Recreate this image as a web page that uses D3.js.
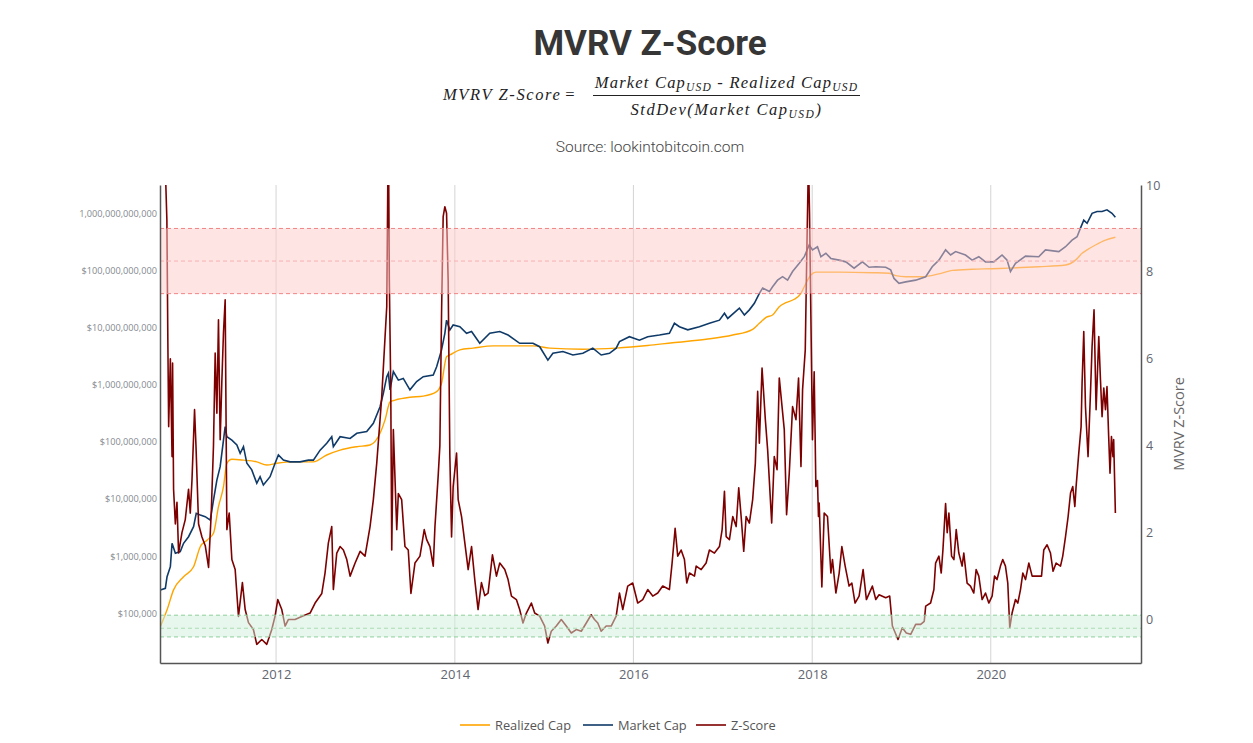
<!DOCTYPE html>
<html>
<head>
<meta charset="utf-8">
<script src="https://cdnjs.cloudflare.com/ajax/libs/d3/7.8.5/d3.min.js"></script>
<style>
  body { margin: 0; background: #fff; }
</style>
</head>
<body>
<div id="chart"></div>
<script>

// data: [decimal year, value]
// caps are kept as log10 of the USD value
const realizedCapLog10 = [
  [2010.704, 4.765], [2010.779, 5.06], [2010.852, 5.41], [2010.964, 5.64], [2011.076, 5.815],
  [2011.151, 6.165], [2011.226, 6.28], [2011.299, 6.4], [2011.355, 6.865], [2011.411, 7.215],
  [2011.449, 7.625], [2011.505, 7.695], [2011.635, 7.68], [2011.784, 7.65], [2011.896, 7.595],
  [2012.008, 7.625], [2012.193, 7.65], [2012.417, 7.65], [2012.566, 7.77], [2012.715, 7.855],
  [2012.902, 7.915], [2013.050, 7.945], [2013.162, 8.15], [2013.218, 8.385], [2013.274, 8.7],
  [2013.330, 8.73], [2013.497, 8.78], [2013.646, 8.8], [2013.796, 8.88], [2013.851, 9.025],
  [2013.907, 9.49], [2013.944, 9.52], [2014.056, 9.61], [2014.204, 9.64], [2014.428, 9.68],
  [2014.875, 9.68], [2015.061, 9.64], [2015.434, 9.62], [2015.807, 9.64], [2016.160, 9.685],
  [2016.439, 9.735], [2016.812, 9.795], [2017.110, 9.87], [2017.333, 9.97], [2017.408, 10.075],
  [2017.483, 10.18], [2017.556, 10.22], [2017.631, 10.365], [2017.706, 10.435], [2017.799, 10.495],
  [2017.874, 10.6], [2017.930, 10.775], [2017.985, 10.92], [2018.041, 10.97], [2018.302, 10.97],
  [2018.674, 10.96], [2018.860, 10.95], [2018.935, 10.91], [2019.047, 10.89], [2019.232, 10.89],
  [2019.419, 10.94], [2019.568, 11.0], [2019.791, 11.02], [2020.015, 11.03], [2020.201, 11.04],
  [2020.536, 11.065], [2020.835, 11.095], [2020.947, 11.18], [2021.020, 11.3], [2021.076, 11.36],
  [2021.170, 11.445], [2021.282, 11.53], [2021.393, 11.58]
]

const marketCapLog10 = [
  [2010.704, 5.408], [2010.760, 5.437], [2010.779, 5.64], [2010.816, 5.815], [2010.835, 6.225],
  [2010.872, 6.05], [2010.927, 6.08], [2010.964, 6.225], [2011.020, 6.34], [2011.076, 6.515],
  [2011.106, 6.75], [2011.151, 6.72], [2011.207, 6.69], [2011.263, 6.63], [2011.299, 6.98],
  [2011.337, 7.33], [2011.374, 7.565], [2011.411, 8.03], [2011.430, 8.265], [2011.449, 8.09],
  [2011.505, 8.03], [2011.561, 7.945], [2011.598, 7.8], [2011.635, 7.915], [2011.673, 7.625],
  [2011.728, 7.51], [2011.784, 7.275], [2011.821, 7.39], [2011.858, 7.245], [2011.933, 7.39],
  [2011.989, 7.625], [2012.026, 7.77], [2012.082, 7.68], [2012.156, 7.65], [2012.268, 7.65],
  [2012.361, 7.68], [2012.417, 7.68], [2012.492, 7.855], [2012.566, 7.975], [2012.622, 8.09],
  [2012.640, 7.915], [2012.715, 8.09], [2012.827, 8.06], [2012.902, 8.15], [2013.013, 8.18],
  [2013.087, 8.325], [2013.162, 8.615], [2013.199, 8.85], [2013.237, 9.14], [2013.255, 9.2],
  [2013.274, 8.91], [2013.311, 9.23], [2013.367, 9.08], [2013.422, 9.11], [2013.497, 8.91],
  [2013.572, 9.055], [2013.646, 9.14], [2013.758, 9.17], [2013.796, 9.315], [2013.851, 9.61],
  [2013.888, 9.9], [2013.907, 10.13], [2013.944, 9.96], [2013.981, 10.045], [2014.056, 10.015],
  [2014.131, 9.9], [2014.187, 9.93], [2014.279, 9.725], [2014.391, 9.9], [2014.503, 9.93],
  [2014.596, 9.87], [2014.726, 9.725], [2014.875, 9.725], [2014.950, 9.665], [2015.042, 9.43],
  [2015.098, 9.55], [2015.210, 9.58], [2015.322, 9.52], [2015.434, 9.55], [2015.545, 9.64],
  [2015.639, 9.52], [2015.732, 9.55], [2015.807, 9.64], [2015.844, 9.755], [2015.955, 9.84],
  [2016.067, 9.78], [2016.160, 9.84], [2016.291, 9.87], [2016.402, 9.9], [2016.458, 10.075],
  [2016.514, 10.015], [2016.607, 9.96], [2016.737, 10.015], [2016.849, 10.075], [2016.961, 10.13],
  [2017.017, 10.25], [2017.054, 10.16], [2017.184, 10.34], [2017.240, 10.22], [2017.296, 10.31],
  [2017.352, 10.425], [2017.408, 10.6], [2017.445, 10.69], [2017.520, 10.63], [2017.556, 10.715],
  [2017.612, 10.83], [2017.668, 10.89], [2017.724, 10.83], [2017.780, 10.98], [2017.855, 11.125],
  [2017.911, 11.24], [2017.966, 11.445], [2018.003, 11.36], [2018.059, 11.415], [2018.097, 11.24],
  [2018.153, 11.3], [2018.209, 11.21], [2018.302, 11.18], [2018.377, 11.15], [2018.469, 11.04],
  [2018.562, 11.15], [2018.637, 11.055], [2018.712, 11.065], [2018.823, 11.055], [2018.879, 11.01],
  [2018.916, 10.86], [2018.972, 10.775], [2019.047, 10.8], [2019.159, 10.83], [2019.271, 10.89],
  [2019.344, 11.065], [2019.419, 11.18], [2019.494, 11.36], [2019.550, 11.27], [2019.606, 11.33],
  [2019.717, 11.27], [2019.791, 11.18], [2019.866, 11.24], [2019.941, 11.15], [2020.034, 11.15],
  [2020.126, 11.27], [2020.182, 11.18], [2020.220, 10.98], [2020.276, 11.125], [2020.388, 11.25],
  [2020.536, 11.24], [2020.611, 11.36], [2020.760, 11.33], [2020.835, 11.415], [2020.908, 11.53],
  [2020.964, 11.59], [2021.002, 11.74], [2021.039, 11.88], [2021.076, 11.825], [2021.132, 12.0],
  [2021.188, 12.03], [2021.244, 12.03], [2021.299, 12.06], [2021.355, 12.0], [2021.393, 11.93]
]

const zScore = [
  [2010.740, 12.5], [2010.758, 10.5], [2010.777, 9.2], [2010.788, 6.4], [2010.797, 4.44],
  [2010.816, 6.0], [2010.835, 3.75], [2010.841, 5.9], [2010.852, 3.0], [2010.872, 2.2],
  [2010.890, 2.7], [2010.908, 1.53], [2010.946, 2.0], [2010.983, 2.3], [2011.020, 3.0],
  [2011.039, 2.45], [2011.058, 3.2], [2011.087, 4.83], [2011.103, 4.0], [2011.132, 2.2],
  [2011.170, 1.9], [2011.207, 1.7], [2011.244, 1.2], [2011.274, 2.45], [2011.299, 4.0],
  [2011.318, 6.13], [2011.337, 4.75], [2011.355, 6.9], [2011.374, 4.14], [2011.393, 5.5],
  [2011.411, 6.6], [2011.430, 7.36], [2011.449, 2.07], [2011.475, 2.45], [2011.505, 1.38],
  [2011.542, 1.15], [2011.579, 0.07], [2011.623, 0.85], [2011.654, 0.23], [2011.691, -0.07],
  [2011.746, -0.23], [2011.784, -0.57], [2011.840, -0.46], [2011.896, -0.57], [2011.952, -0.23],
  [2011.989, 0.08], [2012.019, 0.46], [2012.064, 0.23], [2012.101, -0.15], [2012.137, 0.0],
  [2012.212, 0.0], [2012.287, 0.07], [2012.380, 0.15], [2012.436, 0.38], [2012.511, 0.6],
  [2012.547, 1.07], [2012.584, 1.76], [2012.622, 2.14], [2012.640, 0.69], [2012.678, 1.53],
  [2012.715, 1.68], [2012.752, 1.6], [2012.790, 1.38], [2012.827, 1.0], [2012.883, 1.3],
  [2012.939, 1.57], [2012.994, 1.46], [2013.050, 2.14], [2013.087, 2.76], [2013.125, 3.6],
  [2013.162, 4.6], [2013.181, 5.13], [2013.218, 6.5], [2013.237, 7.2], [2013.255, 11.5],
  [2013.266, 7.8], [2013.282, 5.3], [2013.293, 1.6], [2013.311, 4.37], [2013.349, 2.07],
  [2013.367, 2.9], [2013.404, 2.76], [2013.441, 1.68], [2013.478, 1.6], [2013.508, 0.6],
  [2013.553, 1.3], [2013.609, 1.46], [2013.657, 2.07], [2013.684, 1.84], [2013.721, 1.68],
  [2013.758, 1.23], [2013.777, 2.14], [2013.813, 3.3], [2013.832, 4.0], [2013.851, 7.05],
  [2013.869, 9.27], [2013.888, 9.5], [2013.907, 9.35], [2013.925, 7.8], [2013.944, 3.75],
  [2013.963, 1.9], [2013.981, 3.06], [2014.019, 3.83], [2014.037, 2.76], [2014.075, 2.37],
  [2014.112, 1.76], [2014.149, 1.15], [2014.187, 1.68], [2014.223, 0.92], [2014.260, 0.23],
  [2014.298, 0.85], [2014.335, 0.55], [2014.372, 0.61], [2014.421, 1.49], [2014.466, 1.0],
  [2014.503, 1.3], [2014.559, 1.15], [2014.596, 0.92], [2014.634, 0.54], [2014.689, 0.46],
  [2014.726, 0.23], [2014.763, -0.08], [2014.801, 0.15], [2014.857, 0.38], [2014.894, 0.15],
  [2014.950, 0.08], [2015.006, -0.15], [2015.042, -0.54], [2015.080, -0.27], [2015.136, -0.15],
  [2015.192, 0.0], [2015.248, -0.15], [2015.304, -0.31], [2015.360, -0.23], [2015.416, -0.27],
  [2015.472, -0.08], [2015.527, 0.11], [2015.564, 0.0], [2015.601, -0.08], [2015.639, -0.27],
  [2015.695, -0.15], [2015.751, -0.15], [2015.807, 0.08], [2015.844, 0.61], [2015.881, 0.23],
  [2015.936, 0.77], [2015.992, 0.84], [2016.048, 0.38], [2016.104, 0.46], [2016.160, 0.69],
  [2016.216, 0.54], [2016.272, 0.61], [2016.327, 0.77], [2016.402, 0.69], [2016.432, 1.3],
  [2016.466, 2.1], [2016.495, 1.46], [2016.533, 1.6], [2016.570, 1.38], [2016.596, 0.84],
  [2016.626, 1.07], [2016.682, 1.0], [2016.701, 1.23], [2016.757, 1.15], [2016.812, 1.3],
  [2016.849, 1.6], [2016.905, 1.53], [2016.961, 1.68], [2016.991, 2.07], [2017.017, 2.95],
  [2017.036, 1.91], [2017.073, 1.84], [2017.110, 2.37], [2017.148, 2.14], [2017.177, 3.03],
  [2017.204, 2.37], [2017.233, 1.57], [2017.260, 2.37], [2017.296, 2.22], [2017.333, 2.76],
  [2017.363, 3.6], [2017.389, 5.25], [2017.408, 4.06], [2017.438, 5.79], [2017.475, 4.6],
  [2017.501, 3.9], [2017.546, 2.22], [2017.575, 3.75], [2017.606, 3.45], [2017.631, 5.56],
  [2017.662, 4.9], [2017.687, 4.37], [2017.713, 2.41], [2017.743, 3.37], [2017.780, 4.9],
  [2017.818, 4.6], [2017.847, 5.56], [2017.874, 3.52], [2017.892, 5.29], [2017.922, 6.2],
  [2017.940, 8.5], [2017.958, 10.6], [2017.970, 9.35], [2017.985, 7.0], [2018.003, 4.14],
  [2018.022, 5.7], [2018.041, 3.06], [2018.059, 3.2], [2018.070, 2.37], [2018.078, 2.68],
  [2018.108, 0.75], [2018.134, 2.45], [2018.171, 2.37], [2018.209, 1.07], [2018.227, 1.38],
  [2018.265, 0.61], [2018.302, 1.07], [2018.332, 1.68], [2018.369, 1.23], [2018.413, 0.77],
  [2018.444, 0.84], [2018.480, 0.38], [2018.525, 0.54], [2018.570, 1.15], [2018.607, 0.46],
  [2018.674, 0.77], [2018.712, 0.46], [2018.749, 0.57], [2018.823, 0.5], [2018.868, 0.54],
  [2018.898, -0.15], [2018.961, -0.46], [2019.009, -0.19], [2019.054, -0.31], [2019.103, -0.34],
  [2019.159, -0.11], [2019.215, -0.11], [2019.255, -0.04], [2019.271, 0.31], [2019.326, 0.38],
  [2019.363, 0.69], [2019.382, 1.3], [2019.419, 1.46], [2019.445, 1.07], [2019.464, 1.6],
  [2019.494, 2.67], [2019.512, 2.0], [2019.531, 2.45], [2019.561, 1.46], [2019.587, 1.38],
  [2019.613, 2.07], [2019.642, 1.53], [2019.679, 1.23], [2019.698, 1.53], [2019.735, 0.84],
  [2019.773, 0.77], [2019.810, 0.61], [2019.836, 1.15], [2019.866, 1.0], [2019.903, 0.46],
  [2019.941, 0.61], [2019.978, 0.38], [2020.015, 0.54], [2020.042, 1.0], [2020.070, 0.92],
  [2020.108, 1.23], [2020.134, 1.38], [2020.164, 1.23], [2020.190, 0.84], [2020.212, -0.19],
  [2020.238, 0.15], [2020.276, 0.46], [2020.302, 0.38], [2020.332, 0.69], [2020.358, 1.07],
  [2020.388, 0.92], [2020.425, 1.3], [2020.462, 1.0], [2020.518, 1.0], [2020.567, 1.0],
  [2020.592, 1.6], [2020.629, 1.72], [2020.667, 1.53], [2020.696, 1.11], [2020.730, 1.3],
  [2020.779, 1.23], [2020.804, 1.46], [2020.835, 1.91], [2020.864, 2.37], [2020.891, 2.91],
  [2020.916, 3.06], [2020.939, 2.6], [2020.953, 3.06], [2020.983, 3.83], [2021.009, 4.44],
  [2021.020, 5.44], [2021.039, 6.63], [2021.058, 4.9], [2021.087, 3.75], [2021.114, 5.21],
  [2021.132, 6.28], [2021.154, 7.13], [2021.177, 4.83], [2021.192, 5.67], [2021.207, 6.51],
  [2021.226, 5.52], [2021.244, 4.67], [2021.263, 5.33], [2021.282, 4.83], [2021.299, 5.36],
  [2021.318, 4.21], [2021.333, 3.37], [2021.349, 4.21], [2021.366, 3.75], [2021.374, 4.14],
  [2021.393, 2.45]
]

const yearTicks = [2012, 2014, 2016, 2018, 2020]
const capTicks = [1e5, 1e6, 1e7, 1e8, 1e9, 1e10, 1e11, 1e12]
const capTickLabels = ["$100,000", "$1,000,000", "$10,000,000", "$100,000,000",
  "$1,000,000,000", "$10,000,000,000", "$100,000,000,000", "1,000,000,000,000"]
const zTicks = [0, 2, 4, 6, 8, 10]
const redBand = [7.5, 8.25, 9]      // z-score: low, mid, high
const greenBand = [-0.4, -0.2, 0.1]
const legendNames = ["Realized Cap", "Market Cap", "Z-Score"]
const seriesColors = ["#ffa500", "#0f3a68", "#7d0000"]

function drawChart() {

    // helper: decimal year -> Date
    const toDate = year => {
        const y = Math.floor(year)
        const start = Date.UTC(y, 0, 1)
        const end = Date.UTC(y + 1, 0, 1)
        return new Date(start + (year - y) * (end - start))
    }

    // 1. dimensions
    let dimensions = {
        width: 1253,
        height: 743,
        margin: { top: 185, right: 112, bottom: 80, left: 160 },
    }
    dimensions.boundedWidth = dimensions.width
        - dimensions.margin.left
        - dimensions.margin.right
    dimensions.boundedHeight = dimensions.height
        - dimensions.margin.top
        - dimensions.margin.bottom

    // 2. canvas
    const wrapper = d3.select("#chart")
      .append("svg")
        .attr("width", dimensions.width)
        .attr("height", dimensions.height)

    const bounds = wrapper.append("g")
        .attr("transform", `translate(${dimensions.margin.left},${dimensions.margin.top})`)

    bounds.append("clipPath")
        .attr("id", "plot-clip")
      .append("rect")
        .attr("width", dimensions.boundedWidth)
        .attr("height", dimensions.boundedHeight)

    // 3. scales
    const xScale = d3.scaleUtc()
        .domain([toDate(2010.70), toDate(2021.68)])
        .range([0, dimensions.boundedWidth])

    const capScale = d3.scaleLog()
        .domain([Math.pow(10, 4.13), Math.pow(10, 12.495)])
        .range([dimensions.boundedHeight, 0])

    const zScale = d3.scaleLinear()
        .domain([-1, 10])
        .range([dimensions.boundedHeight, 0])

    // 4. grid
    bounds.append("g")
      .selectAll("line")
      .data(yearTicks)
      .enter().append("line")
        .attr("x1", d => xScale(toDate(d)))
        .attr("x2", d => xScale(toDate(d)))
        .attr("y1", 0)
        .attr("y2", dimensions.boundedHeight)
        .attr("stroke", "#d4d4d4")
        .attr("stroke-width", 1)

    // 5. lines
    const plot = bounds.append("g").attr("clip-path", "url(#plot-clip)")

    const capLine = d3.line()
        .x(d => xScale(toDate(d[0])))
        .y(d => capScale(Math.pow(10, d[1])))

    const zLine = d3.line()
        .x(d => xScale(toDate(d[0])))
        .y(d => zScale(d[1]))

    plot.append("path")
        .datum(realizedCapLog10)
        .attr("d", capLine.curve(d3.curveMonotoneX))
        .attr("fill", "none")
        .attr("stroke", seriesColors[0])
        .attr("stroke-width", 1.4)

    plot.append("path")
        .datum(marketCapLog10)
        .attr("d", capLine.curve(d3.curveLinear))
        .attr("fill", "none")
        .attr("stroke", seriesColors[1])
        .attr("stroke-width", 1.6)

    plot.append("path")
        .datum(zScore)
        .attr("d", zLine)
        .attr("fill", "none")
        .attr("stroke", seriesColors[2])
        .attr("stroke-width", 1.6)
        .attr("stroke-linejoin", "round")

    // 6. bands (drawn above the lines, half transparent)
    const drawBand = (band, fill, edge, mid) => {
        plot.append("rect")
            .attr("x", 0)
            .attr("width", dimensions.boundedWidth)
            .attr("y", zScale(band[2]))
            .attr("height", zScale(band[0]) - zScale(band[2]))
            .attr("fill", fill)
            .attr("fill-opacity", 0.5)
        band.forEach((v, i) => {
            plot.append("line")
                .attr("x1", 0)
                .attr("x2", dimensions.boundedWidth)
                .attr("y1", zScale(v))
                .attr("y2", zScale(v))
                .attr("stroke", i == 1 ? mid : edge)
                .attr("stroke-width", 1)
                .attr("stroke-dasharray", "4,3")
        })
    }
    drawBand(redBand, "#ffcaca", "#f08585", "#f5b0b0")
    drawBand(greenBand, "#d0f0dc", "#8fcf9c", "#a8dcb2")

    // 7. axes
    const xAxis = bounds.append("g")
        .attr("transform", `translate(0,${dimensions.boundedHeight})`)
        .call(d3.axisBottom(xScale)
            .tickValues(yearTicks.map(toDate))
            .tickFormat(d3.utcFormat("%Y"))
            .tickSize(0)
            .tickSizeOuter(0)
            .tickPadding(7))
    xAxis.select(".domain").attr("stroke", "#555").attr("stroke-width", 1.5)
    xAxis.selectAll("text")
        .attr("font-family", "'Open Sans', sans-serif")
        .attr("font-size", 13)
        .attr("fill", "#5f6670")

    const yAxis = bounds.append("g")
        .call(d3.axisLeft(capScale)
            .tickValues(capTicks)
            .tickFormat((d, i) => capTickLabels[i])
            .tickSize(0)
            .tickSizeOuter(0)
            .tickPadding(3))
    yAxis.select(".domain").attr("stroke", "#555").attr("stroke-width", 1.5)
    yAxis.selectAll("text")
        .attr("font-family", "'Open Sans', sans-serif")
        .attr("font-size", 9.2)
        .attr("fill", "#858a90")

    const zAxis = bounds.append("g")
        .attr("transform", `translate(${dimensions.boundedWidth},0)`)
        .call(d3.axisRight(zScale)
            .tickValues(zTicks)
            .tickSize(0)
            .tickSizeOuter(0)
            .tickPadding(5))
    zAxis.select(".domain").attr("stroke", "#555").attr("stroke-width", 1.5)
    zAxis.selectAll("text")
        .attr("font-family", "'Open Sans', sans-serif")
        .attr("font-size", 12.5)
        .attr("fill", "#5f6670")

    bounds.append("text")
        .attr("transform", `translate(${dimensions.boundedWidth + 43},${zScale(4.5)}) rotate(-90)`)
        .attr("text-anchor", "middle")
        .attr("font-family", "'Open Sans', sans-serif")
        .attr("font-size", 14.5)
        .attr("fill", "#666")
        .text("MVRV Z-Score")

    // 8. titles
    wrapper.append("text")
        .attr("x", 650)
        .attr("y", 55)
        .attr("text-anchor", "middle")
        .attr("font-family", "Roboto, sans-serif")
        .attr("font-weight", 700)
        .attr("font-size", 35)
        .attr("fill", "#363636")
        .text("MVRV Z-Score")

    const math = wrapper.append("g")
        .attr("font-family", "'Liberation Serif', serif")
        .attr("font-style", "italic")
        .attr("font-size", 16.5)
        .attr("fill", "#222")

    math.append("text")
        .attr("x", 443)
        .attr("y", 100)
        .attr("letter-spacing", 1.6)
        .text("MVRV Z-Score")

    math.append("text")
        .attr("x", 570)
        .attr("y", 100)
        .attr("text-anchor", "middle")
        .attr("font-style", "normal")
        .text("=")

    math.append("line")
        .attr("x1", 593).attr("x2", 860)
        .attr("y1", 95.5).attr("y2", 95.5)
        .attr("stroke", "#222")
        .attr("stroke-width", 1)

    const withSub = (sel, parts) => {
        parts.forEach(p => {
            sel.append("tspan")
                .attr("font-size", p.sub ? 11.5 : 16.5)
                .attr("dy", p.dy || 0)
                .text(p.t)
        })
    }

    const numer = math.append("text")
        .attr("x", 726.5)
        .attr("y", 87.5)
        .attr("text-anchor", "middle")
        .attr("letter-spacing", 1.2)
    withSub(numer, [
        { t: "Market Cap" },
        { t: "USD", sub: true, dy: 3 },
        { t: " - Realized Cap", dy: -3 },
        { t: "USD", sub: true, dy: 3 },
    ])

    const denom = math.append("text")
        .attr("x", 726.5)
        .attr("y", 115)
        .attr("text-anchor", "middle")
        .attr("letter-spacing", 1.5)
    withSub(denom, [
        { t: "StdDev(Market Cap" },
        { t: "USD", sub: true, dy: 3 },
        { t: ")", dy: -3 },
    ])

    wrapper.append("text")
        .attr("x", 650)
        .attr("y", 152)
        .attr("text-anchor", "middle")
        .attr("font-family", "Roboto, sans-serif")
        .attr("font-weight", 300)
        .attr("font-size", 15.5)
        .attr("fill", "#444")
        .text("Source: lookintobitcoin.com")

    // 9. legend
    const legendX = [460, 583, 696]
    const legend = wrapper.append("g")
      .selectAll("g")
      .data(legendNames)
      .enter().append("g")
        .attr("transform", (d, i) => `translate(${legendX[i]},725)`)

    legend.append("line")
        .attr("x1", 0).attr("x2", 30)
        .attr("stroke", (d, i) => seriesColors[i])
        .attr("stroke-width", 1.6)

    legend.append("text")
        .attr("x", 35)
        .attr("y", 4.5)
        .attr("font-family", "'Open Sans', sans-serif")
        .attr("font-size", 12.8)
        .attr("fill", "#555")
        .text(d => d)
}

drawChart()
</script>
</body>
</html>
